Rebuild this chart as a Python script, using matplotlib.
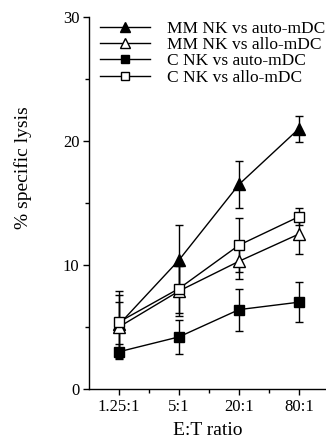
import matplotlib
matplotlib.use("Agg")
import matplotlib.pyplot as plt
from matplotlib.ticker import MultipleLocator, FixedLocator
from matplotlib.lines import Line2D

categories = ["1.25:1", "5:1", "20:1", "80:1"]
mm_auto = [5.2, 10.4, 16.5, 21.0]
mm_auto_err = [2.7, 2.8, 1.9, 1.05]
mm_allo = [5.0, 7.9, 10.3, 12.5]
mm_allo_err = [2.0, 2.0, 1.4, 1.6]
c_auto = [3.0, 4.2, 6.4, 7.0]
c_auto_err = [0.6, 1.4, 1.7, 1.6]
c_allo = [5.4, 8.1, 11.6, 13.9]
c_allo_err = [2.2, 2.0, 2.2, 0.7]
labels = ["MM NK vs auto-mDC", "MM NK vs allo-mDC", "C NK vs auto-mDC", "C NK vs allo-mDC"]

plt.rcParams['font.family'] = ['Liberation Serif', 'DejaVu Serif']

fig = plt.figure(figsize=(3.26, 4.38), dpi=100)
ax = fig.add_axes([0.273, 0.112, 0.727, 0.849])

x = list(range(len(categories)))
series = [
    (mm_auto, mm_auto_err, '^', 'black'),
    (mm_allo, mm_allo_err, '^', 'white'),
    (c_auto, c_auto_err, 's', 'black'),
    (c_allo, c_allo_err, 's', 'white'),
]
for (y, e, m, fc), lab in zip(series, labels):
    ax.errorbar(x, y, yerr=e, fmt='-', marker=m, color='black', mfc=fc, mec='black',
                ms=9 if m == '^' else 7, lw=1, elinewidth=1, capsize=3, capthick=1,
                label=lab)

ax.set_xlim(-0.5, 3.45)
ax.set_ylim(0, 30)
ax.set_xticks(x)
ax.set_xticklabels(categories)
ax.xaxis.set_minor_locator(FixedLocator([0.5, 1.5, 2.5]))
ax.yaxis.set_major_locator(MultipleLocator(10))
ax.yaxis.set_minor_locator(MultipleLocator(5))
ax.spines['top'].set_visible(False)
ax.spines['right'].set_visible(False)
for s in ['left', 'bottom']:
    ax.spines[s].set_linewidth(1)
ax.tick_params(which='major', direction='out', length=4, width=1, labelsize=12, pad=3)
ax.tick_params(which='minor', direction='out', length=3, width=1)

ax.set_ylabel("% specific lysis", fontsize=14)
ax.yaxis.set_label_coords(-0.24, 0.594)
ax.set_xlabel("E:T ratio", fontsize=14, labelpad=5)

lh = []
for (y, e, m, fc) in series:
    lh.append(Line2D([], [], color='black', lw=1, marker=m, mfc=fc, mec='black',
                     ms=7.5 if m == '^' else 6))
ax.legend(lh, labels, loc='upper left', bbox_to_anchor=(100/326, 1-21/438),
          bbox_transform=fig.transFigure, frameon=False, fontsize=12.5,
          labelspacing=0.0, handlelength=2.9, handletextpad=0.95, borderpad=0,
          borderaxespad=0)

fig.savefig("out.png", dpi=100)
